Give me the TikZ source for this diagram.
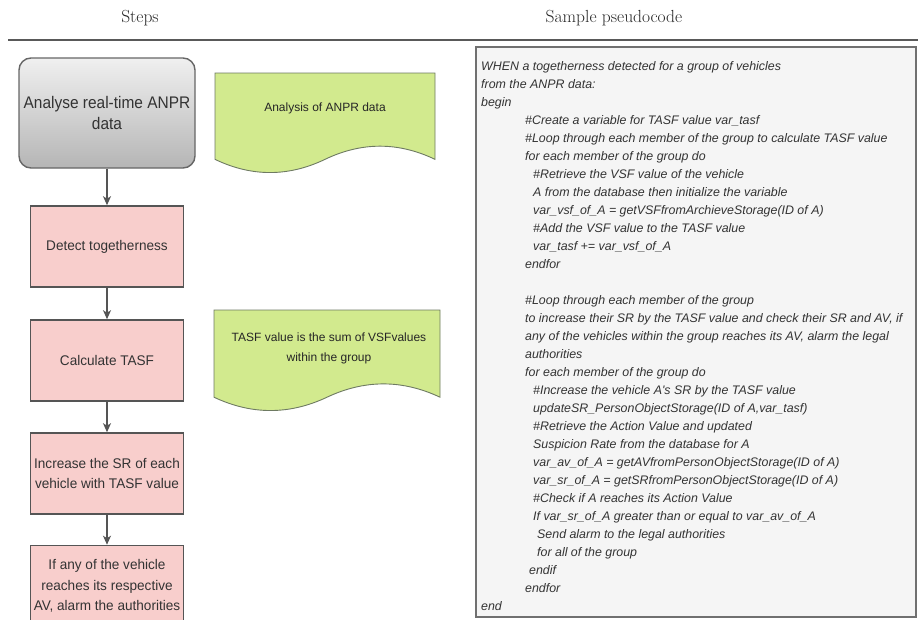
\documentclass[tikz,border=0pt]{standalone}
\usepackage{fontspec}
\newfontfamily\arial{Liberation Sans}
\newfontfamily\arialbox[FakeStretch=0.97]{Liberation Sans}
\newfontfamily\arialstart[FakeStretch=0.92]{Liberation Sans}
\usetikzlibrary{arrows.meta}

\definecolor{linegray}{HTML}{555555}
\definecolor{txtgray}{HTML}{333333}
\definecolor{pinkfill}{HTML}{F8CECC}
\definecolor{notefill}{HTML}{D2EA8E}
\definecolor{notedraw}{HTML}{6E7A62}
\definecolor{codefill}{HTML}{F5F5F5}
\definecolor{codedraw}{HTML}{707070}

\tikzset{
  stepbox/.style={draw=linegray, line width=1.6pt, fill=pinkfill,
    minimum width=153pt, minimum height=81pt, align=center,
    inner sep=0pt, font=\arialbox\fontsize{14}{20.5}\selectfont, text=txtgray},
  startbox/.style={draw=linegray!90, line width=1.4pt, rounded corners=12pt,
    top color=gray!12, bottom color=gray!58,
    minimum width=176pt, minimum height=110pt, align=center,
    inner sep=0pt, font=\arialstart\fontsize{16.8}{21}\selectfont, text=txtgray},
  notetext/.style={align=center, inner sep=0pt,
    font=\arial\fontsize{12}{20}\selectfont, text=black!85},
  flow/.style={draw=linegray, line width=1.5pt,
    -{Stealth[length=9pt,width=8pt,inset=2.5pt]}},
  header/.style={font=\fontsize{17.5}{19}\selectfont, text=black!85},
}

% wavy "document" outline: top-left corner (x,y), width w, height h
\newcommand\docoutline[4]{%
  \draw[fill=notefill, draw=notedraw, line width=0.9pt]
    (#1,#2) -- ({#1+#3},#2)
    -- ({#1+#3},{#2+#4-0.145*#4})
    .. controls ({#1+5*#3/6},{#2+#4-0.319*#4}) and ({#1+2*#3/3},{#2+#4-0.319*#4})
    .. ({#1+#3/2},{#2+#4-0.145*#4})
    .. controls ({#1+#3/3},{#2+#4+0.029*#4}) and ({#1+#3/6},{#2+#4+0.029*#4})
    .. ({#1},{#2+#4-0.145*#4}) -- cycle;}

\begin{document}
\begin{tikzpicture}[x=1pt, y=-1pt]
\useasboundingbox (0,0) rectangle (918,619);

% column headers
\node[header] (hsteps) at (140,18) {Steps};
\node[header] (hcode) at (614,18) {Sample pseudocode};
\draw[draw=black!65, line width=1.3pt] (8,40) -- (918,40);

% flow of steps
\node[startbox] (s1) at (107,113) {Analyse real-time ANPR\\data};
\node[stepbox] (s2) at (107,246.5) {Detect togetherness};
\node[stepbox] (s3) at (107,360.5) {Calculate TASF};
\node[stepbox] (s4) at (107,473.5) {Increase the SR of each\\vehicle with TASF value};
\node[stepbox] (s5) at (107,586) {If any of the vehicle\\reaches its respective\\AV, alarm the authorities};

\draw[flow] (s1) -- (s2);
\draw[flow] (s2) -- (s3);
\draw[flow] (s3) -- (s4);
\draw[flow] (s4) -- (s5);

% annotation notes
\docoutline{215}{73}{220}{101}
\node[notetext] (n1) at (325,108) {Analysis of ANPR data};
\docoutline{214}{310}{226}{102}
\node[notetext] (n2) at (329,348) {TASF value is the sum of VSFvalues\\within the group};

% pseudocode panel
\draw[fill=codefill, draw=codedraw, line width=1.6pt] (476,47) rectangle (916,617);
\node[anchor=north west, align=left, inner sep=0pt, text=txtgray,
      font=\arial\itshape\fontsize{12.4}{18}\selectfont] (code) at (481,61.5) {%
WHEN a togetherness detected for a group of vehicles\\
from the ANPR data:\\
begin\\
\hspace*{44pt}\#Create a variable for TASF value var\_tasf\\
\hspace*{44pt}\#Loop through each member of the group to calculate TASF value\\
\hspace*{44pt}for each member of the group do\\
\hspace*{52pt}\#Retrieve the VSF value of the vehicle\\
\hspace*{52pt}A from the database then initialize the variable\\
\hspace*{52pt}var\_vsf\_of\_A = getVSFfromArchieveStorage(ID of A)\\
\hspace*{52pt}\#Add the VSF value to the TASF value\\
\hspace*{52pt}var\_tasf += var\_vsf\_of\_A\\
\hspace*{44pt}endfor\\
\mbox{}\\
\hspace*{44pt}\#Loop through each member of the group\\
\hspace*{44pt}to increase their SR by the TASF value and check their SR and AV, if\\
\hspace*{44pt}any of the vehicles within the group reaches its AV, alarm the legal\\
\hspace*{44pt}authorities\\
\hspace*{44pt}for each member of the group do\\
\hspace*{52pt}\#Increase the vehicle A's SR by the TASF value\\
\hspace*{52pt}updateSR\_PersonObjectStorage(ID of A,var\_tasf)\\
\hspace*{52pt}\#Retrieve the Action Value and updated\\
\hspace*{52pt}Suspicion Rate from the database for A\\
\hspace*{52pt}var\_av\_of\_A = getAVfromPersonObjectStorage(ID of A)\\
\hspace*{52pt}var\_sr\_of\_A = getSRfromPersonObjectStorage(ID of A)\\
\hspace*{52pt}\#Check if A reaches its Action Value\\
\hspace*{52pt}If var\_sr\_of\_A greater than or equal to var\_av\_of\_A\\
\hspace*{56pt}Send alarm to the legal authorities\\
\hspace*{56pt}for all of the group\\
\hspace*{48pt}endif\\
\hspace*{44pt}endfor\\
end};
\end{tikzpicture}
\end{document}
